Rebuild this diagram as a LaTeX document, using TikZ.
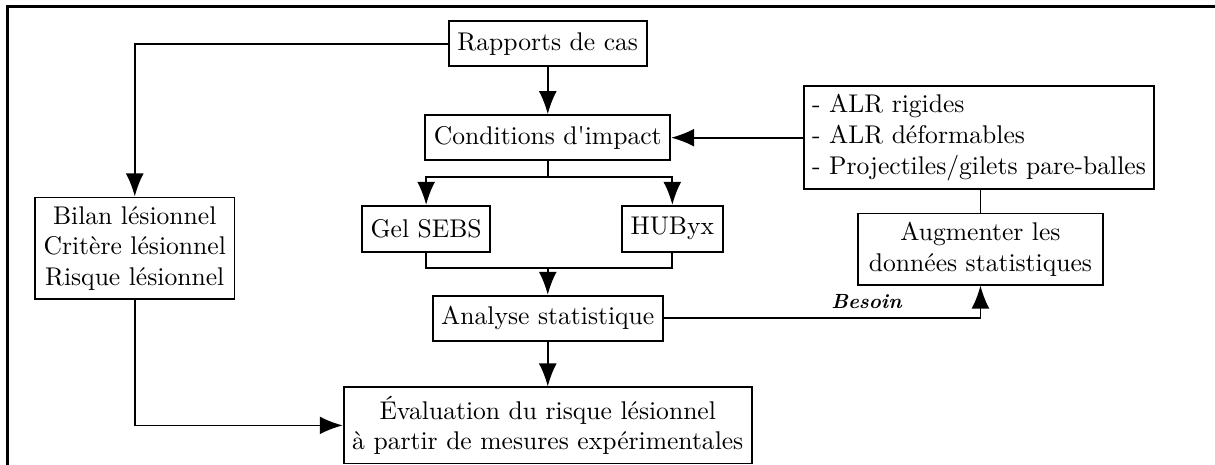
\documentclass[tikz,border=0pt]{standalone}
\usepackage{textcomp}
\usepackage{tikz}
\usetikzlibrary{arrows.meta,positioning,calc}

\begin{document}
\begin{tikzpicture}[
    box/.style={rectangle, draw=black, line width=0.7pt, minimum height=0.62cm},
    multi/.style={rectangle, draw=black, line width=0.7pt, align=center},
    arr/.style={-{Latex[length=9pt,width=7pt]}, line width=0.7pt},
    link/.style={line width=0.7pt},
    frame/.style={draw=black, line width=1pt},
]

% --- page and frame ---
\useasboundingbox (0,0) rectangle (16.68,-6.37);
\clip (0,0) rectangle (16.68,-6.37);
\draw[frame] (0.10,-0.09) rectangle (17.5,-7.5);

% --- main column ---
\node[box] (rapports) at (7.52,-0.60) {Rapports de cas};
\node[box] (cond) at (7.52,-1.89) {Conditions d\textquotesingle impact};
\node[box, minimum height=0.63cm] (gel) at (5.85,-3.14) {Gel SEBS};
\node[box, minimum height=0.63cm] (hubyx) at (9.23,-3.14) {HUByx};
\node[box] (analyse) at (7.52,-4.37) {Analyse statistique};
\node[multi, minimum height=1.02cm] (eval) at (7.52,-5.84)
  {\'Evaluation du risque l\'esionnel\\ \`a partir de mesures exp\'erimentales};

% --- side boxes ---
\node[multi, minimum width=2.69cm, minimum height=1.40cm] (bilan) at (1.85,-3.41)
  {Bilan l\'esionnel\\ Crit\`ere l\'esionnel\\ Risque l\'esionnel};
\node[rectangle, draw=black, line width=0.7pt, align=left, minimum height=1.37cm] (alr) at (13.44,-1.89)
  {- ALR rigides\\ - ALR d\'eformables\\ - Projectiles/gilets pare-balles};
\node[multi, minimum width=3.36cm, minimum height=0.97cm] (augm) at (13.46,-3.42)
  {Augmenter les\\ donn\'ees statistiques};

% --- junctions ---
\coordinate (split) at (7.52,-2.43);
\coordinate (join) at (7.52,-3.68);

% --- connectors ---
\draw[arr] (rapports) -- (cond);
\draw[link] (cond.south) -- (split);
\draw[arr] (split) -| (gel.north);
\draw[arr] (split) -| (hubyx.north);
\draw[link] (gel.south) |- (join) -| (hubyx.south);
\draw[arr] (join) -- (analyse.north);
\draw[arr] (analyse) -- (eval);

\draw[arr] (rapports.west) -| (bilan.north);
\draw[arr] (bilan.south) |- (eval.west);

\draw[arr] (alr.west) -- (cond.east);
\draw[link] (alr.south -| augm.north) -- (augm.north);
\draw[arr] (analyse.east) -| node[pos=0.32, above, font=\footnotesize\bfseries\itshape] (besoin) {Besoin} (augm.south);

\end{tikzpicture}
\end{document}
